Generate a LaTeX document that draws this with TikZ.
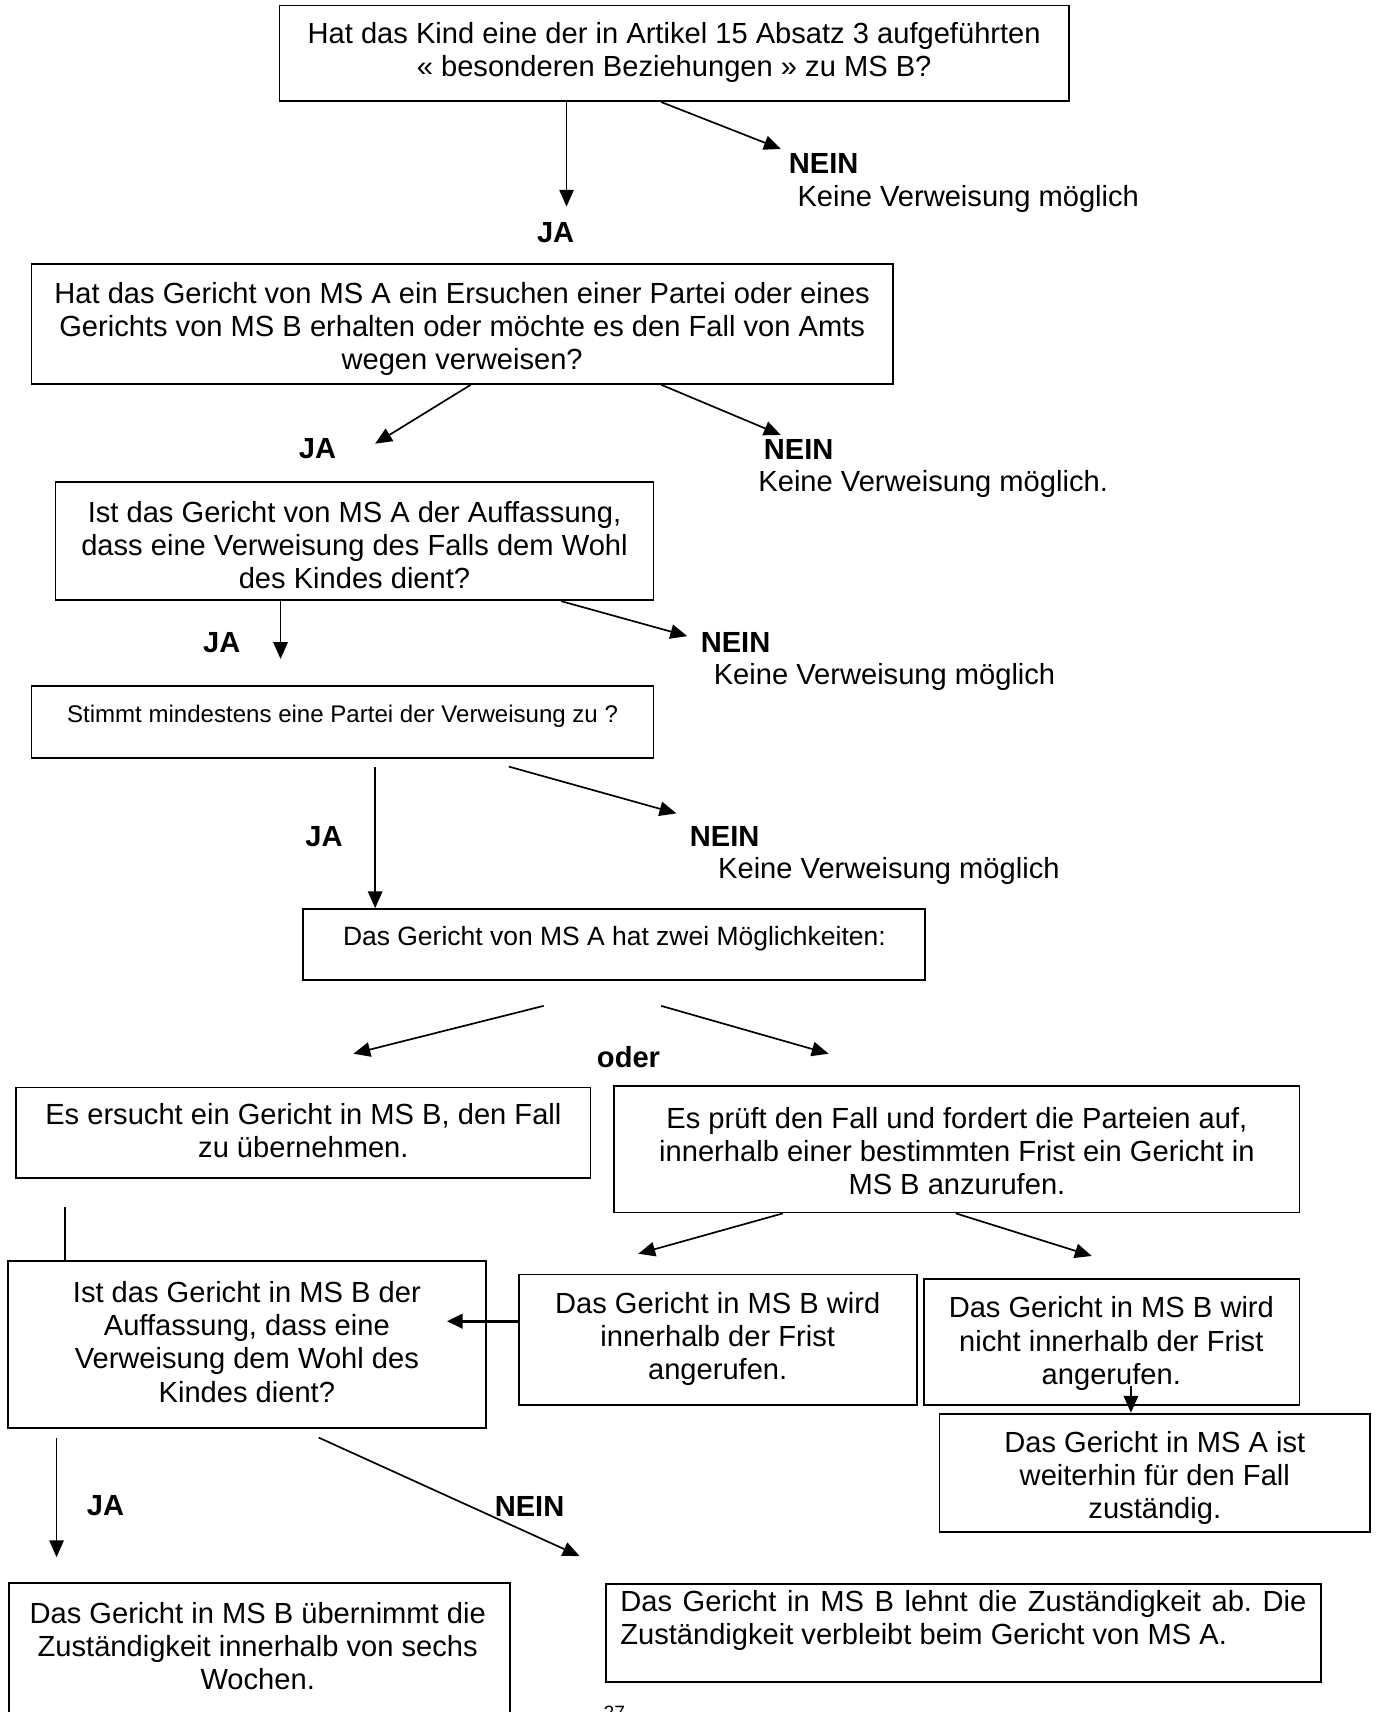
\documentclass[tikz,border=0pt]{standalone}
\usepackage{fontspec}
\setmainfont{Liberation Sans}
\usetikzlibrary{arrows.meta}
\tikzset{
  box/.style={draw, line width=0.75pt, inner sep=0pt},
  txt/.style={align=center, inner sep=0pt, font=\fontsize{12.1}{13.8}\selectfont},
  small/.style={align=center, inner sep=0pt, font=\fontsize{10}{12}\selectfont},
  lbl/.style={inner sep=0pt, font=\fontsize{12.1}{13.8}\selectfont\bfseries},
  note/.style={inner sep=0pt, anchor=west, font=\fontsize{12.1}{13.8}\selectfont},
  arr/.style={line width=0.7pt, -{Triangle[length=7pt,width=6pt]}},
  plain/.style={line width=0.7pt}
}
\begin{document}
\begin{tikzpicture}[x=0.452pt,y=-0.452pt]
\useasboundingbox (0,0) rectangle (1270,1574.4);
% boxes
\node[box, minimum width=726*0.452pt, minimum height=88*0.452pt] (b1) at (620,49) {};
\node[box, minimum width=792*0.452pt, minimum height=110*0.452pt] (b2) at (425,298) {};
\node[box, minimum width=550*0.452pt, minimum height=109*0.452pt] (b3) at (326,497.5) {};
\node[box, minimum width=572*0.452pt, minimum height=66*0.452pt] (b4) at (315,664) {};
\node[box, minimum width=572*0.452pt, minimum height=65*0.452pt] (b5) at (565,868.5) {};
\node[box, minimum width=528*0.452pt, minimum height=83*0.452pt] (b6) at (279,1041.5) {};
\node[box, minimum width=630*0.452pt, minimum height=116*0.452pt] (b7) at (880,1057) {};
\node[box, minimum width=440*0.452pt, minimum height=153*0.452pt] (b8) at (227,1236.5) {};
\node[box, minimum width=366*0.452pt, minimum height=120*0.452pt] (b9) at (660,1232) {};
\node[box, minimum width=345*0.452pt, minimum height=116*0.452pt] (b10) at (1022.5,1234) {};
\node[box, minimum width=396*0.452pt, minimum height=109*0.452pt] (b11) at (1062,1354.5) {};
\node[box, minimum width=461*0.452pt, minimum height=160*0.452pt] (b12) at (238.5,1536) {};
\node[box, minimum width=658*0.452pt, minimum height=90*0.452pt] (b13) at (886,1502) {};
% box texts
\node[txt] (t1) at (620,48.5) {Hat das Kind eine der in Artikel 15 Absatz 3 aufgeführten\\« besonderen Beziehungen » zu MS B?};
\node[txt] (t2) at (425,302.5) {Hat das Gericht von MS A ein Ersuchen einer Partei oder eines\\Gerichts von MS B erhalten oder möchte es den Fall von Amts\\wegen verweisen?};
\node[txt] (t3) at (326,501.5) {Ist das Gericht von MS A der Auffassung,\\dass eine Verweisung des Falls dem Wohl\\des Kindes dient?};
\node[small] (t4) at (315,659) {Stimmt mindestens eine Partei der Verweisung zu ?};
\node[small, font=\fontsize{11}{13}\selectfont] (t5) at (565,863) {Das Gericht von MS A hat zwei Möglichkeiten:};
\node[txt] (t6) at (279,1039.5) {Es ersucht ein Gericht in MS B, den Fall\\zu übernehmen.};
\node[txt] (t7) at (880,1058.5) {Es prüft den Fall und fordert die Parteien auf,\\innerhalb einer bestimmten Frist ein Gericht in\\MS B anzurufen.};
\node[txt] (t8) at (227,1234) {Ist das Gericht in MS B der\\Auffassung, dass eine\\Verweisung dem Wohl des\\Kindes dient?};
\node[txt] (t9) at (660,1231.5) {Das Gericht in MS B wird\\innerhalb der Frist\\angerufen.};
\node[txt] (t10) at (1022,1235.5) {Das Gericht in MS B wird\\nicht innerhalb der Frist\\angerufen.};
\node[txt] (t11) at (1062,1359) {Das Gericht in MS A ist\\weiterhin für den Fall\\zuständig.};
\node[txt] (t12) at (237,1514) {Das Gericht in MS B übernimmt die\\Zuständigkeit innerhalb von sechs\\Wochen.};
\node[txt, align=justify, text width=631*0.452pt, anchor=west] (t13) at (570,1490) {\frenchspacing Das Gericht in MS B lehnt die Zuständigkeit ab. Die Zuständigkeit verbleibt beim Gericht von MS A.};
\node[inner sep=0pt, font=\fontsize{8}{9}\selectfont] (pg) at (565,1575) {27};
% labels
\node[lbl, anchor=west] (n1) at (725,150) {NEIN};
\node[note] (k1) at (733,183) {Keine Verweisung möglich};
\node[lbl] (j1) at (511,214) {JA};
\node[lbl] (j2) at (292,413) {JA};
\node[lbl, anchor=west] (n2) at (702,413) {NEIN};
\node[note] (k2) at (697,445) {Keine Verweisung möglich.};
\node[lbl] (j3) at (204,591) {JA};
\node[lbl, anchor=west] (n3) at (644,591) {NEIN};
\node[note] (k3) at (656,623) {Keine Verweisung möglich};
\node[lbl] (j4) at (298,769) {JA};
\node[lbl, anchor=west] (n4) at (634,769) {NEIN};
\node[note] (k4) at (660,801) {Keine Verweisung möglich};
\node[lbl] (od) at (578,972) {oder};
\node[lbl] (j5) at (97,1385) {JA};
\node[lbl] (n5) at (487,1385) {NEIN};
% free ends
\coordinate (e1) at (521,190);
\coordinate (e2) at (718,137);
\coordinate (e3) at (345,408);
\coordinate (e4) at (718,400);
\coordinate (e5) at (258,606);
\coordinate (e6) at (632,585);
\coordinate (s8) at (468,705);
\coordinate (e8) at (622,748);
\coordinate (s7) at (345,705);
\coordinate (s9) at (500,925);
\coordinate (e9) at (325,969);
\coordinate (s10) at (608,925);
\coordinate (e10) at (762,969);
\coordinate (s11) at (60,1110);
\coordinate (e11) at (587,1153);
\coordinate (e12) at (1004,1155);
\coordinate (e13) at (411,1215);
\coordinate (s14) at (1040,1275);
\coordinate (s15) at (52,1322);
\coordinate (e15) at (52,1432);
\coordinate (s16) at (293,1322);
\coordinate (e16) at (533,1431);
% connectors
\draw[arr] (b1.south -| e1) -- (e1);
\draw[arr] (b1.south -| 608,0) -- (e2);
\draw[arr] (b2.south -| 433,0) -- (e3);
\draw[arr] (b2.south -| 608,0) -- (e4);
\draw[arr] (b3.south -| e5) -- (e5);
\draw[arr] (b3.south -| 516,0) -- (e6);
\draw[arr] (s7) -- (b5.north -| s7);
\draw[arr] (s8) -- (e8);
\draw[arr] (s9) -- (e9);
\draw[arr] (s10) -- (e10);
\draw[plain] (s11) -- (b8.north -| s11);
\draw[arr] (b7.south -| 720,0) -- (e11);
\draw[arr] (b7.south -| 879,0) -- (e12);
\draw[line width=1.1pt, -{Triangle[length=6.5pt,width=6pt]}] (b9.west |- e13) -- (e13);
\draw[arr] (s14) -- (b11.north -| s14);
\draw[arr] (s15) -- (e15);
\draw[arr] (s16) -- (e16);
\end{tikzpicture}
\end{document}
